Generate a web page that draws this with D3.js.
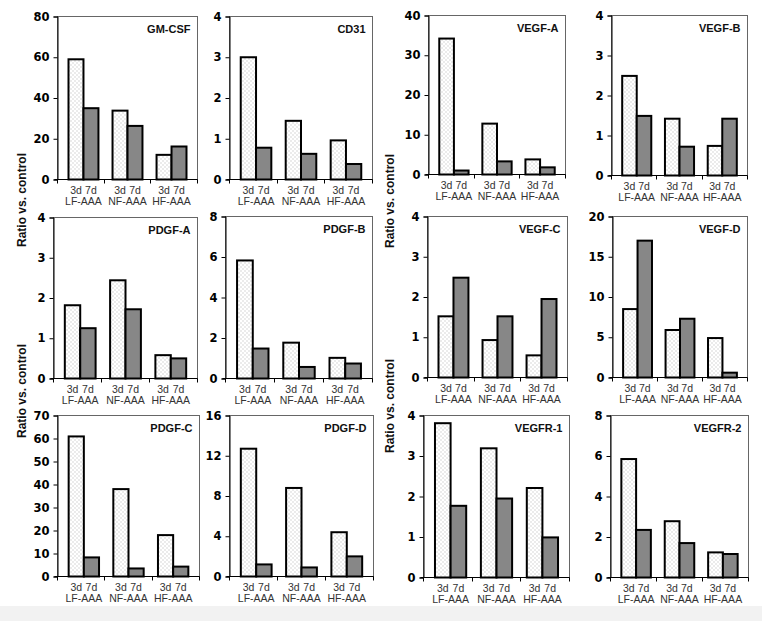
<!DOCTYPE html>
<html><head><meta charset="utf-8">
<script src="https://cdn.jsdelivr.net/npm/d3@7"></script>
<style>body{margin:0;background:#fff}svg{display:block}</style>
</head><body>
<script>
// ---- data ----
const groups = ["LF-AAA", "NF-AAA", "HF-AAA"];
const timepoints = ["3d", "7d"];
const markers = ["GM-CSF","CD31","VEGF-A","VEGF-B","PDGF-A","PDGF-B","VEGF-C","VEGF-D","PDGF-C","PDGF-D","VEGFR-1","VEGFR-2"];
const yMaxes = [80, 4, 40, 4, 4, 8, 4, 20, 70, 16, 4, 8];
const yTickSteps = [20, 1, 10, 1, 1, 2, 1, 5, 10, 4, 1, 2];
const day3 = [
  [59, 33.8, 12.1], [3.0, 1.44, 0.96], [34.2, 12.8, 3.8], [2.49, 1.42, 0.74],
  [1.82, 2.44, 0.58], [5.83, 1.77, 1.02], [1.52, 0.93, 0.55], [8.5, 5.9, 4.9],
  [60.9, 38.0, 18.0], [12.7, 8.8, 4.4], [3.81, 3.19, 2.21], [5.85, 2.78, 1.24]
];
const day7 = [
  [35, 26.3, 16.2], [0.78, 0.63, 0.38], [1.0, 3.3, 1.8], [1.49, 0.72, 1.42],
  [1.25, 1.72, 0.5], [1.48, 0.57, 0.74], [2.48, 1.52, 1.95], [17.0, 7.3, 0.6],
  [8.3, 3.5, 4.3], [1.2, 0.9, 2.0], [1.77, 1.95, 0.99], [2.35, 1.7, 1.16]
];
const yTitle = "Ratio vs. control";

// ---- layout ----
const W = 762, H = 621;
const frames = [[57,16,197,179],[229,16,372,179],[428,15,565,174],[611,15,747,175],
                [53,217,197,378],[225,216,372,378],[427,216,567,377],[612,216,747,377],
                [57,415,199,576],[229,415,373,576],[423,415,569,577],[610,415,748,577]];
const yTitlePos = [[26,200],[26,391],[394,201],[394,406]];

const svg = d3.select("body").append("svg").attr("width", W).attr("height", H);
svg.append("rect").attr("width", W).attr("height", H).attr("fill", "#fff");
svg.append("rect").attr("y", 606).attr("width", W).attr("height", H-606).attr("fill", "#f2f2f2");

const defs = svg.append("defs");
const pd = defs.append("pattern").attr("id","dots").attr("patternUnits","userSpaceOnUse")
  .attr("width",4).attr("height",4);
pd.append("rect").attr("width",4).attr("height",4).attr("fill","#fff");
pd.append("rect").attr("x",1).attr("y",0).attr("width",1).attr("height",1).attr("fill","#b0b0b0");
pd.append("rect").attr("x",3).attr("y",2).attr("width",1).attr("height",1).attr("fill","#b0b0b0");
const ph = defs.append("pattern").attr("id","hatch").attr("patternUnits","userSpaceOnUse")
  .attr("width",2).attr("height",2);
ph.append("rect").attr("width",2).attr("height",2).attr("fill","#b0b0b0");
ph.append("rect").attr("x",0).attr("y",0).attr("width",1).attr("height",1).attr("fill","#5e5e5e");
ph.append("rect").attr("x",1).attr("y",1).attr("width",1).attr("height",1).attr("fill","#5e5e5e");
const fills = {"3d": "url(#dots)", "7d": "url(#hatch)"};

markers.forEach((name, i) => {
  const [L, T, R, B] = frames[i];
  const w = R - L, h = B - T;
  const g = svg.append("g").attr("transform", `translate(${L + 0.5},${T + 0.5})`);
  const x = d3.scaleBand().domain(groups).range([0, w]).paddingInner(0.32).paddingOuter(0.25);
  const xs = d3.scaleBand().domain(timepoints).range([0, x.bandwidth()]);
  const y = d3.scaleLinear().domain([0, yMaxes[i]]).range([h, 0]);

  // frame
  g.append("rect").attr("width", w).attr("height", h).attr("fill", "none")
    .attr("stroke", "#666").attr("stroke-width", 1);

  // y axis
  const ticks = d3.range(0, yMaxes[i] + yTickSteps[i] / 2, yTickSteps[i]);
  const ya = g.append("g").call(d3.axisLeft(y).tickValues(ticks).tickSize(4).tickPadding(4).tickFormat(d3.format("d")));
  ya.select(".domain").attr("stroke", "#000");
  ya.selectAll(".tick line").attr("stroke", "#000");
  ya.selectAll("text").attr("font-family", "'DejaVu Sans', sans-serif").attr("font-weight", "bold")
    .attr("font-size", 11.5).attr("fill", "#000");

  // x axis line + boundary ticks
  g.append("line").attr("x1", -3).attr("x2", w).attr("y1", h).attr("y2", h).attr("stroke", "#000");
  d3.range(4).forEach(k => {
    const xx = Math.round(k * w / 3);
    g.append("line").attr("x1", xx).attr("x2", xx).attr("y1", h).attr("y2", h + 4).attr("stroke", "#000");
  });

  // bars
  groups.forEach((grp, gi) => {
    const vals = {"3d": day3[i][gi], "7d": day7[i][gi]};
    timepoints.forEach(t => {
      g.append("rect")
        .attr("x", x(grp) + xs(t)).attr("width", xs.bandwidth())
        .attr("y", y(vals[t])).attr("height", h - y(vals[t]))
        .attr("fill", fills[t]).attr("stroke", "#000").attr("stroke-width", 2);
      g.append("text").attr("x", x(grp) + xs(t) + xs.bandwidth() / 2).attr("y", h + 14)
        .attr("text-anchor", "middle").attr("font-family", "'Liberation Sans', Arial, sans-serif")
        .attr("font-size", 10.5).attr("fill", "#333").text(t);
    });
    g.append("text").attr("x", x(grp) + x.bandwidth() / 2).attr("y", h + 25)
      .attr("text-anchor", "middle").attr("font-family", "'Liberation Sans', Arial, sans-serif")
      .attr("font-size", 10.5).attr("fill", "#333").text(grp);
  });

  // title
  g.append("text").attr("x", w - 7).attr("y", 16).attr("text-anchor", "end")
    .attr("font-family", "'Liberation Sans', Arial, sans-serif").attr("font-weight", "bold")
    .attr("font-size", 11).attr("fill", "#111").text(name);
});

yTitlePos.forEach(([tx, ty]) => {
  svg.append("text").attr("transform", `translate(${tx},${ty}) rotate(-90)`)
    .attr("text-anchor", "middle").attr("font-family", "'Liberation Sans', Arial, sans-serif")
    .attr("font-weight", "bold").attr("font-size", 12).attr("fill", "#111").text(yTitle);
});
</script>
</body></html>
